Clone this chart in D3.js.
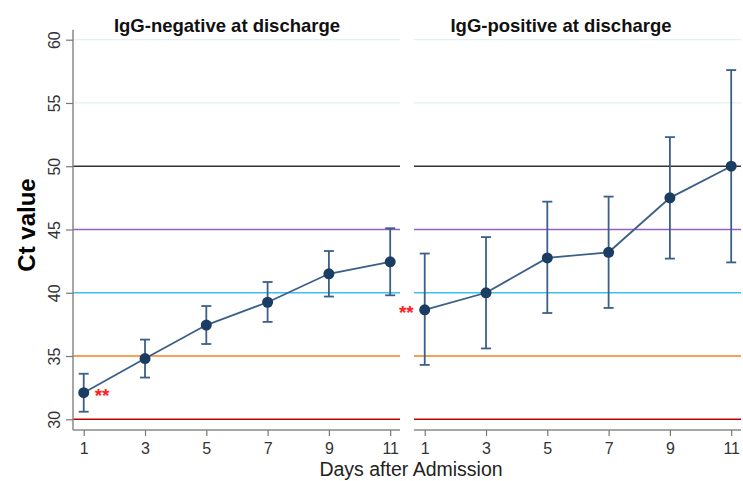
<!DOCTYPE html>
<html>
<head>
<meta charset="utf-8">
<script src="https://cdn.jsdelivr.net/npm/d3@7"></script>
<style>
  body { margin: 0; background: #fff; font-family: "Liberation Sans", Arial, sans-serif; }
</style>
</head>
<body>
<div id="chart"></div>
<script>
// Data
const days = [1, 3, 5, 7, 9, 11];
const panelTitles = ["IgG-negative at discharge", "IgG-positive at discharge"];
const negMean = [32.1, 34.8, 37.45, 39.25, 41.5, 42.45];
const negLow = [30.6, 33.3, 35.95, 37.7, 39.7, 39.8];
const negHigh = [33.6, 36.3, 38.95, 40.85, 43.3, 45.1];
const posMean = [38.65, 40.0, 42.75, 43.2, 47.5, 50.0];
const posLow = [34.3, 35.6, 38.4, 38.8, 42.7, 42.4];
const posHigh = [43.1, 44.4, 47.2, 47.6, 52.3, 57.6];
const yTicks = [30, 35, 40, 45, 50, 55, 60];
const refLevels = [30, 35, 40, 45, 50, 55, 60];
const refColors = ["#c00000", "#f5821f", "#3dbfef", "#9b5fc0", "#333333", "#e3f1f4", "#e3f1f4"];

const W = 743, H = 481;
const svg = d3.select("#chart").append("svg")
    .attr("width", W)
    .attr("height", H);

// Shared y scale
const y = d3.scaleLinear().domain([30, 60]).range([419.3, 39.7]);
const axisY = 430;

const panels = [
    { title: panelTitles[0], mean: negMean, low: negLow, high: negHigh, x0: 73, x1: 400, titleX: 227, star: "left" },
    { title: panelTitles[1], mean: posMean, low: posLow, high: posHigh, x0: 414, x1: 741, titleX: 561, star: "right" }
];

const lineCol = "#3a5f89";
const dotCol = "#1c3d63";

panels.forEach((p, i) => {
    const x = d3.scaleLinear().domain([0.65, 11.32]).range([p.x0, p.x1]);
    const g = svg.append("g");

    // Reference lines
    refLevels.forEach((v, k) => {
        g.append("line")
            .attr("x1", p.x0).attr("x2", p.x1)
            .attr("y1", y(v)).attr("y2", y(v))
            .attr("stroke", refColors[k])
            .attr("stroke-width", k >= 5 ? 1.2 : 1.6);
    });

    // X axis
    const xAxis = d3.axisBottom(x).tickValues(days).tickSize(6).tickPadding(7);
    const xg = g.append("g")
        .attr("transform", `translate(0,${axisY})`)
        .call(xAxis);
    xg.select(".domain").attr("d", `M${p.x0},0H${p.x1}`).attr("stroke", "#888").attr("stroke-width", 1.5);
    xg.selectAll(".tick line").attr("stroke", "#777").attr("stroke-width", 1.2);
    xg.selectAll(".tick text")
        .attr("font-family", "Liberation Sans, Arial, sans-serif")
        .attr("font-size", 16).attr("fill", "#333");

    // Y axis on the first panel only
    if (i === 0) {
        const yAxis = d3.axisLeft(y).tickValues(yTicks).tickSize(7).tickPadding(0);
        const yg = g.append("g")
            .attr("transform", `translate(${p.x0},0)`)
            .call(yAxis);
        yg.select(".domain").attr("d", `M0,${axisY}V${y(60) - 10}`).attr("stroke", "#888").attr("stroke-width", 1.5);
        yg.selectAll(".tick line").attr("stroke", "#777").attr("stroke-width", 1.2);
        yg.selectAll(".tick text")
            .attr("font-family", "Liberation Sans, Arial, sans-serif")
            .attr("font-size", 16).attr("fill", "#333")
            .attr("dy", 0)
            .attr("transform", "rotate(-90)")
            .attr("text-anchor", "middle")
            .attr("y", -13)
            .attr("x", 0);
    }

    // Error bars
    const capW = 5;
    days.forEach((d, k) => {
        const cx = x(d);
        g.append("line")
            .attr("x1", cx).attr("x2", cx)
            .attr("y1", y(p.low[k])).attr("y2", y(p.high[k]))
            .attr("stroke", lineCol).attr("stroke-width", 1.8);
        [p.low[k], p.high[k]].forEach(v => {
            g.append("line")
                .attr("x1", cx - capW).attr("x2", cx + capW)
                .attr("y1", y(v)).attr("y2", y(v))
                .attr("stroke", lineCol).attr("stroke-width", 1.8);
        });
    });

    // Mean line
    const line = d3.line().x((d, k) => x(days[k])).y(d => y(d));
    g.append("path")
        .datum(p.mean)
        .attr("d", line)
        .attr("fill", "none")
        .attr("stroke", lineCol)
        .attr("stroke-width", 1.8);

    g.selectAll(".dot")
        .data(p.mean)
        .enter().append("circle")
        .attr("cx", (d, k) => x(days[k]))
        .attr("cy", d => y(d))
        .attr("r", 5.5)
        .attr("fill", dotCol);

    // Significance stars next to day 1
    g.append("text")
        .attr("x", p.star === "left" ? x(days[0]) + 11 : x(days[0]) - 11)
        .attr("y", y(p.mean[0]) + 9)
        .attr("text-anchor", p.star === "left" ? "start" : "end")
        .attr("font-size", 19)
        .attr("font-weight", "bold")
        .attr("fill", "#ff2020")
        .text("**");

    // Panel title
    g.append("text")
        .attr("x", p.titleX)
        .attr("y", 32)
        .attr("text-anchor", "middle")
        .attr("font-size", 18.5)
        .attr("font-weight", "bold")
        .attr("fill", "#111")
        .text(p.title);
});

// Axis titles
svg.append("text")
    .attr("transform", "translate(35,225) rotate(-90)")
    .attr("text-anchor", "middle")
    .attr("font-size", 24)
    .attr("font-weight", "bold")
    .attr("fill", "#000")
    .text("Ct value");

svg.append("text")
    .attr("x", 411)
    .attr("y", 476)
    .attr("text-anchor", "middle")
    .attr("font-size", 19.5)
    .attr("fill", "#222")
    .text("Days after Admission");
</script>
</body>
</html>
